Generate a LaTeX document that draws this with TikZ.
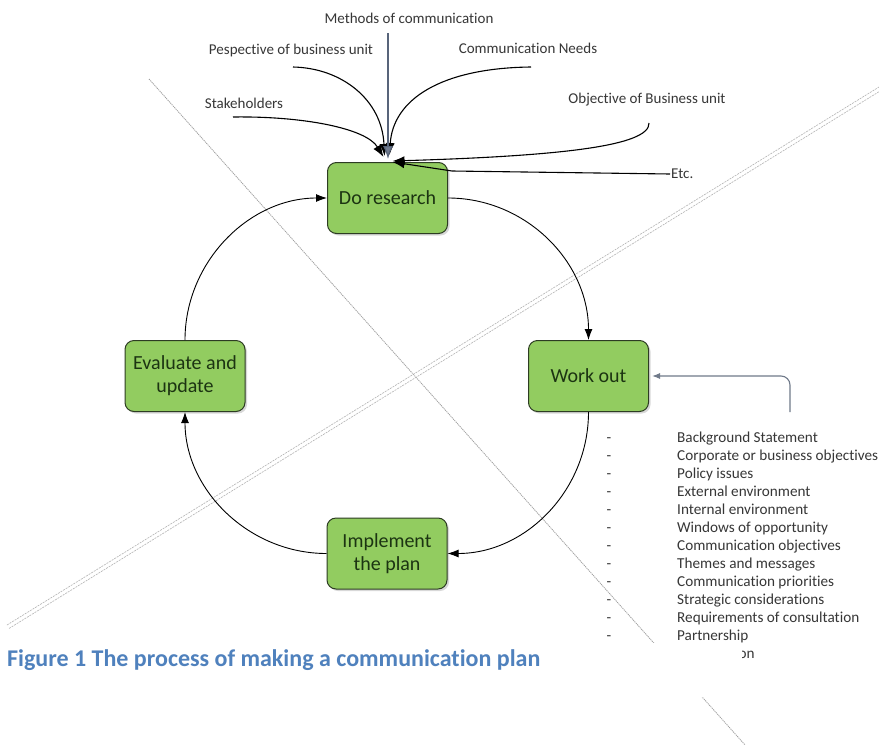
\documentclass[tikz,border=0pt]{standalone}
\usepackage{fontspec}
\setmainfont{Carlito}[Ligatures=NoCommon]
\usetikzlibrary{arrows.meta,shadows}

\definecolor{boxgreen}{RGB}{146,204,96}
\definecolor{boxedge}{RGB}{45,60,35}
\definecolor{boxtext}{RGB}{28,52,18}
\definecolor{labelgray}{RGB}{55,55,55}
\definecolor{slate}{RGB}{88,100,122}
\definecolor{listline}{RGB}{112,122,138}
\definecolor{captionblue}{RGB}{79,129,189}
\definecolor{crossgray}{RGB}{160,160,160}

\tikzset{
  stepbox/.style={draw=boxedge, line width=1pt, rounded corners=9pt,
    fill=boxgreen, minimum width=120pt, minimum height=71pt, inner sep=0pt,
    text=boxtext, align=center, font=\fontsize{20}{23}\selectfont,
    drop shadow={opacity=0.3, shadow xshift=2pt, shadow yshift=-2pt}},
  lbl/.style={font=\fontsize{15}{18}\selectfont, text=labelgray, inner sep=1pt},
  listtxt/.style={font=\fontsize{15.2}{18}\selectfont, text=labelgray, inner sep=0pt},
  cyc/.style={draw=black, line width=0.9pt, -{Latex[length=11pt,width=8pt]}},
  feed/.style={draw=black, line width=1.1pt, -{Latex[length=12pt,width=9pt]}},
  crossA/.style={draw=crossgray, line width=0.8pt, dash pattern=on 1.2pt off 0.8pt},
  crossB/.style={draw=crossgray!80, line width=0.6pt, dash pattern=on 2pt off 1pt},
}

\begin{document}
\begin{tikzpicture}[x=1pt, y=-1pt]
\useasboundingbox[fill=white] (0,0) rectangle (879,745);

% the two faint crossing strokes behind the figure
\coordinate (aS) at (149,79);
\coordinate (aE) at (746,746);
\coordinate (bS) at (7,625);
\coordinate (bE) at (879,87);
\coordinate (bS2) at (9.1,628.4);
\coordinate (bE2) at (881.1,90.4);
\draw[crossA] (aS) -- (aE);
\draw[crossB] (bS) -- (bE);
\draw[crossB] (bS2) -- (bE2);

% the four stages of the cycle
\node[stepbox] (dr) at (387.5,198) {Do research};
\node[stepbox] (wo) at (588.5,376) {Work out};
\node[stepbox] (ev) at (185,376) {Evaluate and\\update};
\node[stepbox] (im) at (387,553.5) {Implement\\the plan};

% cycle connectors
\draw[cyc] (dr.east) .. controls (526,198) and (588.5,262) .. (wo.north);
\draw[cyc] (wo.south) .. controls (588.5,490) and (526,553.5) .. (im.east);
\draw[cyc] (im.west) .. controls (249,553.5) and (185,490) .. (ev.south);
\draw[cyc] (ev.north) .. controls (185,262) and (249,198) .. (dr.west);

% inputs to the research stage
\node[lbl] (meth) at (409,18) {Methods of communication};
\node[lbl] (pers) at (291,50) {Pespective of business unit};
\node[lbl] (need) at (528,48) {Communication Needs};
\node[lbl] (stak) at (244,103) {Stakeholders};
\node[lbl] (obj) at (647,100) {Objective of Business unit};
\node[lbl, anchor=west] (etc) at (670,174) {Etc.};

\coordinate (stakS) at (233,117);
\coordinate (persS) at (293,67);
\coordinate (needS) at (531,67);
\coordinate (objS) at (649,123);
\coordinate (methS) at (388,33);

\draw[feed] (stakS) .. controls (302,116) and (366,128) .. ([shift={(-4,-5)}]dr.north);
\draw[feed] (persS) .. controls (342,68) and (382,100) .. ([shift={(-3,-6)}]dr.north);
\draw[feed] (needS) .. controls (440,68) and (393,100) .. ([shift={(2,-7)}]dr.north);
\draw[feed] (objS) .. controls (650,146) and (560,156) .. ([shift={(5,-1)}]dr.north);
\draw[feed] (etc.west) -- (452,171) -- ([shift={(5,0)}]dr.north);
\draw[draw=slate, line width=1.1pt, -{Latex[length=13pt,width=10pt,fill=slate!85]}]
  (methS) -- ([shift={(0.5,-3)}]dr.north);

% list of items worked out
\foreach \t [count=\i] in {Background Statement, Corporate or business objectives,
    Policy issues, External environment, Internal environment, Windows of opportunity,
    Communication objectives, Themes and messages, Communication priorities,
    Strategic considerations, Requirements of consultation, Partnership}{
  \node[listtxt, anchor=base] (dash\i) at (609, {442+18*(\i-1)}) {-};
  \node[listtxt, anchor=base west] (item\i) at (677, {442+18*(\i-1)}) {\t};
}
\node[listtxt, anchor=base west] (itemlast) at (738.5,658) {on};

\coordinate (listtop) at (790,412);
\draw[draw=listline, line width=1.1pt, rounded corners=9pt,
      -{Latex[length=8pt,width=6pt]}, shorten >=3pt]
  (listtop) |- (wo.east);

% caption band
\fill[white] (0,643) rectangle (742,697);
\node[anchor=base west, inner sep=0pt, text=captionblue,
      font=\fontsize{24}{28}\selectfont\bfseries] (cap) at (7,666)
  {Figure 1 The process of making a communication plan};
\end{tikzpicture}
\end{document}
